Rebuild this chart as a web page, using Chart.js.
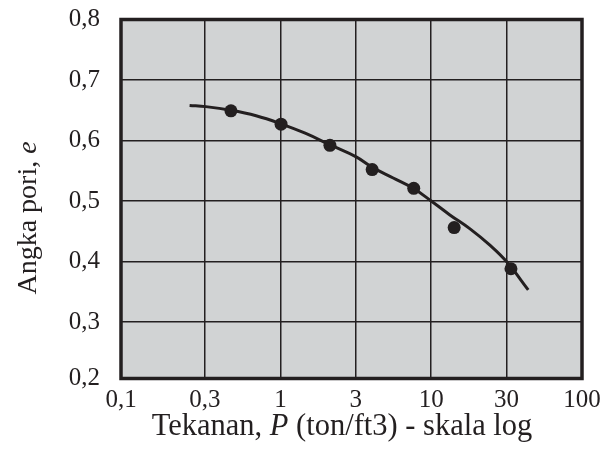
<!DOCTYPE html>
<html>
<head>
<meta charset="utf-8">
<script src="https://cdn.jsdelivr.net/npm/chart.js@4/dist/chart.umd.min.js"></script>
<style>
  html, body { margin: 0; padding: 0; background: #fff; }
  #wrap { width: 613px; height: 457px; }
</style>
</head>
<body>
<div id="wrap"><canvas id="myChart" width="613" height="457"></canvas></div>
<script>
// measured points (P in ton/ft3, e)
var pressure = [0.47, 1.01, 2.13, 4.06, 7.66, 14.2, 33.8];
var voidRatio = [0.649, 0.627, 0.592, 0.552, 0.521, 0.456, 0.388];

// fitted curve
var curveP = [0.25, 0.32, 0.47, 0.69, 1.0, 1.46, 2.13, 3.18, 4.05, 5.6, 7.6, 10, 13.3, 18.1, 24.5, 31.8, 44];
var curveE = [0.658, 0.656, 0.650, 0.641, 0.628, 0.612, 0.593, 0.573, 0.556, 0.538, 0.521, 0.500, 0.477, 0.454, 0.427, 0.399, 0.353];

var xTickLabels = ["0,1", "0,3", "1", "3", "10", "30", "100"];
var yTickLabels = ["0,2", "0,3", "0,4", "0,5", "0,6", "0,7", "0,8"];

// axis titles, second part of each is set in italic
var xTitle = ["Tekanan, ", "P", " (ton/ft3) - skala log"];
var yTitle = ["Angka pori, ", "e"];

// grid in the picture is drawn at even half-decade steps
var xMin = 0.0877, xMax = 100;
var xTickAt = [xMin, 0.3162, 1, 3.162, 10, 31.62, 100];
var yMin = 0.2066, yMax = 0.8;
var yTickAt = [yMin, 0.3, 0.4, 0.5, 0.6, 0.7, 0.8];

var ink = "#231f20";
var serif = "'Liberation Serif', 'DejaVu Serif', serif";

// draws the parts with parts[1] in italic, centred on x,y
function mixedText(ctx, parts, x, y, size) {
  var fonts = parts.map(function (p, i) {
    return (i == 1 ? "italic " : "") + size + "px " + serif;
  });
  var total = 0;
  parts.forEach(function (p, i) {
    ctx.font = fonts[i];
    total += ctx.measureText(p).width;
  });
  var cx = x - total / 2;
  ctx.textAlign = "left";
  ctx.textBaseline = "middle";
  parts.forEach(function (p, i) {
    ctx.font = fonts[i];
    ctx.fillText(p, cx, y);
    cx += ctx.measureText(p).width;
  });
}

var plotFrame = {
  id: "plotFrame",
  beforeDraw: function (chart) {
    var a = chart.chartArea, ctx = chart.ctx;
    ctx.save();
    ctx.fillStyle = "#d1d3d4";
    ctx.fillRect(a.left, a.top, a.right - a.left, a.bottom - a.top);
    ctx.restore();
  },
  afterDatasetsDraw: function (chart) {
    var a = chart.chartArea, ctx = chart.ctx;
    ctx.save();
    ctx.strokeStyle = ink;
    ctx.lineWidth = 3.5;
    ctx.strokeRect(a.left, a.top, a.right - a.left, a.bottom - a.top);
    ctx.restore();
  },
  afterDraw: function (chart) {
    var ctx = chart.ctx;
    ctx.save();
    ctx.fillStyle = ink;
    mixedText(ctx, xTitle, 342, 427, 30.5);
    ctx.translate(29, 218);
    ctx.rotate(-Math.PI / 2);
    mixedText(ctx, yTitle, 0, 0, 28);
    ctx.restore();
  }
};

var curveData = curveP.map(function (p, i) { return { x: p, y: curveE[i] }; });
var pointData = pressure.map(function (p, i) { return { x: p, y: voidRatio[i] }; });

new Chart(document.getElementById("myChart"), {
  type: "scatter",
  data: {
    datasets: [
      {
        data: curveData,
        showLine: true,
        borderColor: ink,
        borderWidth: 3,
        pointRadius: 0,
        tension: 0.4,
        fill: false
      },
      {
        data: pointData,
        showLine: false,
        backgroundColor: ink,
        borderColor: ink,
        pointRadius: 6.5,
        borderWidth: 0
      }
    ]
  },
  options: {
    responsive: false,
    animation: false,
    layout: { padding: { top: 19.5, right: 31, left: 0, bottom: 0 } },
    plugins: {
      legend: { display: false },
      tooltip: { enabled: false }
    },
    scales: {
      x: {
        type: "logarithmic",
        min: xMin,
        max: xMax,
        afterBuildTicks: function (scale) {
          scale.ticks = xTickAt.map(function (v) { return { value: v }; });
        },
        afterFit: function (scale) {
          scale.height = 78.5;
          scale.paddingLeft = 0;
          scale.paddingRight = 0;
        },
        grid: { color: ink, lineWidth: 1.5, drawTicks: false },
        border: { display: false },
        ticks: {
          color: ink,
          padding: 7,
          maxRotation: 0,
          autoSkip: false,
          font: { family: serif, size: 25 },
          callback: function (v, i) { return xTickLabels[i]; }
        }
      },
      y: {
        type: "linear",
        min: yMin,
        max: yMax,
        afterBuildTicks: function (scale) {
          scale.ticks = yTickAt.map(function (v) { return { value: v }; });
        },
        afterFit: function (scale) {
          scale.width = 121;
          scale.paddingTop = 0;
          scale.paddingBottom = 0;
        },
        grid: { color: ink, lineWidth: 1.5, drawTicks: false },
        border: { display: false },
        ticks: {
          color: ink,
          padding: 21,
          autoSkip: false,
          font: { family: serif, size: 25 },
          callback: function (v, i) { return yTickLabels[i]; }
        }
      }
    }
  },
  plugins: [plotFrame]
});
</script>
</body>
</html>
